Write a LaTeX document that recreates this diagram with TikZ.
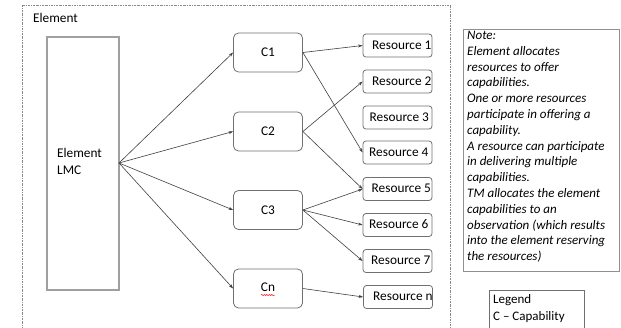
\documentclass[tikz,border=0pt]{standalone}
\usepackage{fontspec}
\setmainfont{Carlito}
\usetikzlibrary{arrows.meta,decorations.pathmorphing}
\definecolor{linec}{HTML}{404040}
\definecolor{boxc}{HTML}{707070}
\definecolor{lmcc}{HTML}{A0A0A0}
\definecolor{notec}{HTML}{909090}
\definecolor{dashc}{HTML}{8A8A8A}
\begin{document}
\begin{tikzpicture}[x=1pt,y=-1pt,
  base/.style={font=\fontsize{13.3}{16}\selectfont},
  cbox/.style={draw=boxc, line width=0.8pt, rounded corners=5pt, minimum width=69pt, minimum height=39pt, inner sep=0pt, base},
  rbox/.style={draw=boxc, line width=0.8pt, rounded corners=3pt, minimum width=69pt, minimum height=23pt, inner sep=0pt},
  rtext/.style={base, anchor=west, inner sep=0pt},
  conn/.style={draw=linec, line width=0.6pt, -{Stealth[length=4.5pt,width=3pt]}},
  lbl/.style={base, inner sep=0pt}]
\clip (0,0) rectangle (621,327);
\fill[white] (0,0) rectangle (621,327);
% outer dashed element frame
\draw[dashc, line width=0.7pt, dash pattern=on 2pt off 1pt on 0.6pt off 1pt] (22,5) rectangle (450,340);
\node[lbl, anchor=west] (elabel) at (33,18) {Element};
% LMC box
\node[draw=lmcc, line width=1.1pt, minimum width=72pt, minimum height=253pt, inner sep=0pt] (lmc) at (83,163.5) {};
\node[lbl, anchor=west, align=left, font=\fontsize{13.3}{17}\selectfont] (lmct) at (57,161.5) {Element\\LMC};
\coordinate (src) at (119,163);
% capability boxes
\node[cbox] (c1) at (268,52.5) {C1};
\node[cbox] (c2) at (268,131.5) {C2};
\node[cbox] (c3) at (268,210) {C3};
\node[cbox] (cn) at (268,288.5) {};
\node[lbl] (cnt) at (268,287.5) {Cn};
\draw[red, line width=0.5pt, decorate, decoration={snake, amplitude=0.6pt, segment length=2.5pt}] (261,295) -- (275,295);
% resource boxes
\node[rbox] (r1) at (397.5,45.5) {};
\node[rbox] (r2) at (397.5,81.5) {};
\node[rbox] (r3) at (397.5,117.5) {};
\node[rbox] (r4) at (397.5,152.5) {};
\node[rbox] (r5) at (397.5,189) {};
\node[rbox] (r6) at (397.5,225) {};
\node[rbox] (r7) at (397.5,261) {};
\node[rbox] (rn) at (398,297) {};
\node[rtext] (t1) at (372,45) {Resource 1};
\node[rtext] (t2) at (372,81) {Resource 2};
\node[rtext] (t3) at (369.5,117) {Resource 3};
\node[rtext] (t4) at (369,152) {Resource 4};
\node[rtext] (t5) at (371.5,188.5) {Resource 5};
\node[rtext] (t6) at (369,224.5) {Resource 6};
\node[rtext] (t7) at (371,260.5) {Resource 7};
\node[rtext] (tn) at (373,296.5) {Resource n};
% connectors LMC -> C
\draw[conn] (src) -- (c1.west);
\draw[conn] (src) -- (c2.west);
\draw[conn] (src) -- (c3.west);
\draw[conn] (src) -- (cn.west);
% connectors C -> resources
\draw[conn] (c1.east) -- (r1.west);
\draw[conn] (c1.east) -- (r4.west);
\draw[conn] (c2.east) -- (r2.west);
\draw[conn] (c2.east) -- (r5.west);
\draw[conn] (c3.east) -- (r5.west);
\draw[conn] (c3.east) -- (r6.west);
\draw[conn] (c3.east) -- (r7.west);
\draw[conn] (cn.east) -- (rn.west);
% note box
\draw[notec, line width=1pt] (463,29) rectangle (619,271);
\node[anchor=north west, align=left, inner sep=0pt, font=\fontsize{13}{15.8}\selectfont\itshape] (note) at (467,31) {Note:\\Element allocates\\resources to offer\\capabilities.\\One or more resources\\participate in offering a\\capability.\\A resource can participate\\in delivering multiple\\capabilities.\\TM allocates the element\\capabilities to an\\observation (which results\\into the element reserving\\the resources)};
% legend box
\draw[boxc, line width=0.8pt] (489,290) rectangle (584,340);
\node[anchor=north west, align=left, inner sep=0pt, font=\fontsize{13}{17}\selectfont] (legend) at (493,294) {Legend\\C -- Capability};
\end{tikzpicture}
\end{document}
